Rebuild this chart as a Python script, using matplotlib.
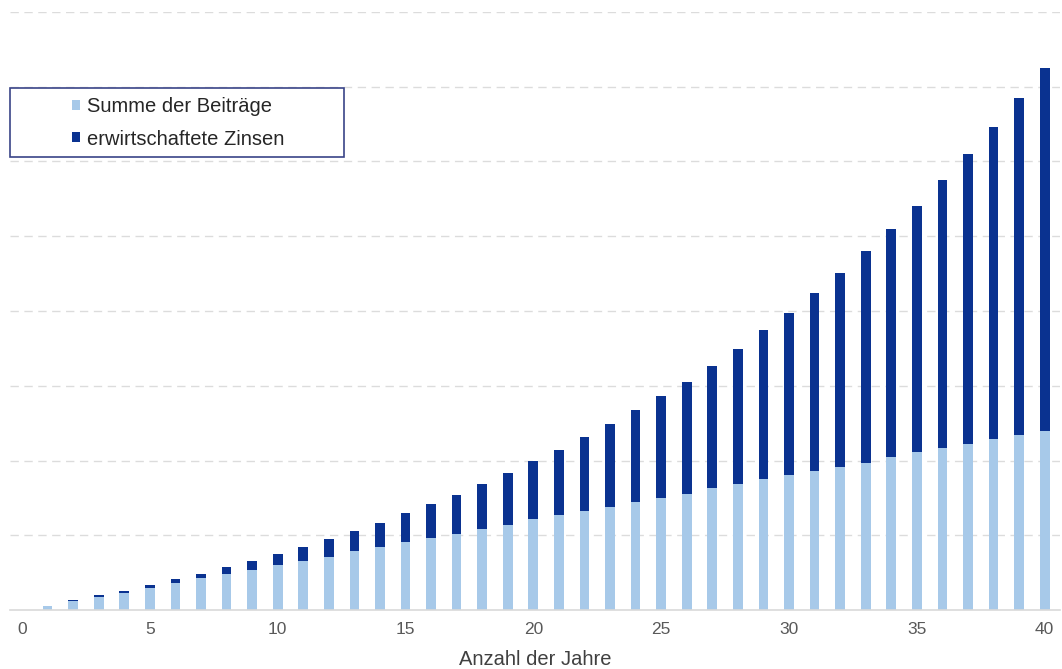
import matplotlib
matplotlib.use("Agg")
import matplotlib.pyplot as plt
from matplotlib.patches import Rectangle, Patch

plt.rcParams['font.family'] = ['Liberation Sans', 'DejaVu Sans']

years = list(range(1, 41))
beitraege = [1150, 2330, 3480, 4550, 5800, 7300, 8480, 9630, 10700, 11960,
             13110, 14180, 15790, 16940, 18110, 19270, 20340, 21600, 22670, 24270,
             25340, 26490, 27640, 28820, 29890, 30960, 32570, 33720, 34970, 36040,
             37200, 38270, 39420, 40940, 42200, 43270, 44500, 45680, 46830, 47980]
zinsen = [0, 300, 450, 550, 800, 900, 1150, 1870, 2400, 3020,
          3830, 4900, 5350, 6340, 7840, 9020, 10520, 12040, 14000, 15520,
          17470, 19720, 22050, 24620, 27460, 30130, 32810, 36210, 39950, 43510,
          47710, 51910, 56520, 61090, 65990, 71800, 77440, 83490, 90100, 96980]
xticks = [0, 5, 10, 15, 20, 25, 30, 35, 40]
labels = ["Summe der Beiträge", "erwirtschaftete Zinsen"]
xlabel = "Anzahl der Jahre"

light = '#a7c9e9'
dark = '#0a3290'

fig = plt.figure(figsize=(10.62, 6.69), dpi=100)
ax = fig.add_axes([10/1062, 1-610/669, 1050/1062, 598/669])

ax.bar(years, beitraege, width=0.38, color=light, zorder=2)
ax.bar(years, zinsen, width=0.38, bottom=beitraege, color=dark, zorder=2)

ax.set_xlim(-0.47, 40.6)
ax.set_ylim(0, 160000)
ax.set_yticks(range(20000, 160001, 20000))
ax.yaxis.grid(True, color='#dcdcdc', linestyle=(0, (6, 4)), linewidth=1.0, zorder=0)
ax.tick_params(axis='y', left=False, labelleft=False)
ax.set_xticks(xticks)
ax.tick_params(axis='x', length=0, pad=9, labelsize=12.5, labelcolor='#595959')
for s in ['top', 'right', 'left']:
    ax.spines[s].set_visible(False)
ax.spines['bottom'].set_color('#d9d9d9')
ax.spines['bottom'].set_linewidth(1.2)
ax.set_xlabel(xlabel, fontsize=14.5, color='#404040', labelpad=9)

# legend frame
frame = Rectangle((10/1062, 1-157/669), 334/1062, 69/669, transform=fig.transFigure,
                  facecolor='white', edgecolor='#3a4488', linewidth=1.2, zorder=5)
fig.patches.append(frame)
handles = [Patch(facecolor=light), Patch(facecolor=dark)]
leg = fig.legend(handles, labels, loc='center', bbox_to_anchor=(178/1062, 1-123/669),
                 frameon=False, fontsize=14.5, handlelength=0.4, handleheight=0.4,
                 handletextpad=0.35, labelspacing=0.65, borderpad=0)
for t in leg.get_texts():
    t.set_color('#262626')
leg.set_zorder(6)

fig.savefig('out.png', dpi=100)
